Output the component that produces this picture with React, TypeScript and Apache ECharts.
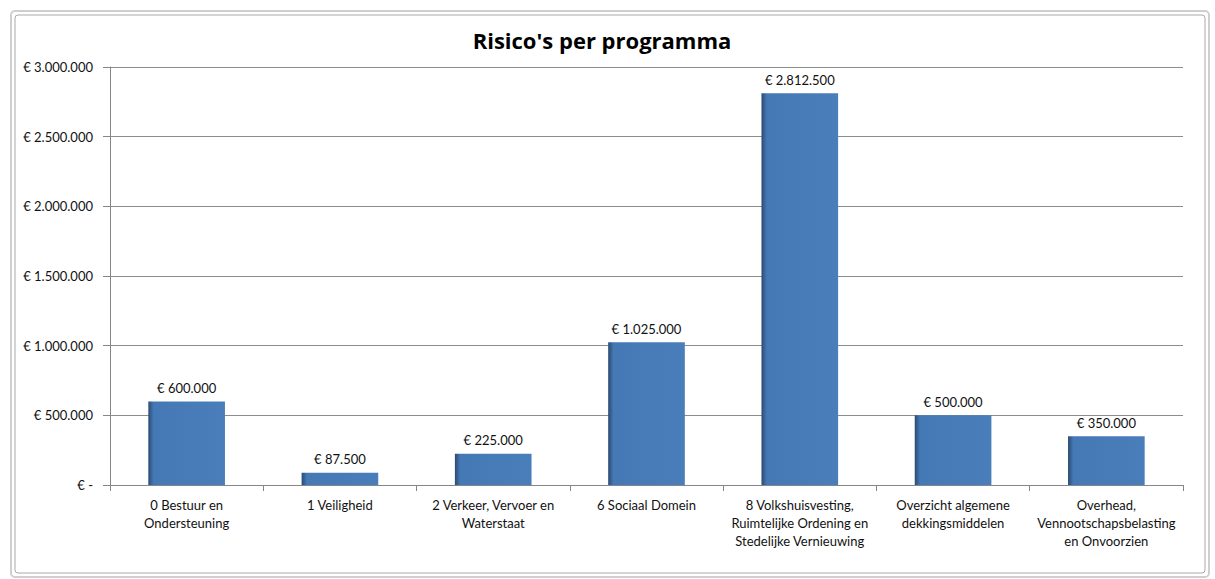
import React, { useEffect, useRef } from "react";
import * as echarts from "echarts";

const categories = [
  "0 Bestuur en\nOndersteuning",
  "1 Veiligheid",
  "2 Verkeer, Vervoer en\nWaterstaat",
  "6 Sociaal Domein",
  "8 Volkshuisvesting,\nRuimtelijke Ordening en\nStedelijke Vernieuwing",
  "Overzicht algemene\ndekkingsmiddelen",
  "Overhead,\nVennootschapsbelasting\nen Onvoorzien",
];
const values = [600000, 87500, 225000, 1025000, 2812500, 500000, 350000];
const yTicks = [0, 500000, 1000000, 1500000, 2000000, 2500000, 3000000];
const title = "Risico's per programma";

const fmt = (v: number) =>
  v === 0 ? "€ -" : "€ " + String(Math.round(v)).replace(/\B(?=(\d{3})+(?!\d))/g, ".");

export default function App() {
  const ref = useRef<HTMLDivElement>(null);
  useEffect(() => {
    const chart = echarts.init(ref.current!, null, { renderer: "svg" });
    const font = "Lato, 'Open Sans', sans-serif";
    chart.setOption({
      animation: false,
      backgroundColor: "#ffffff",
      title: {
        text: title,
        left: 597,
        textAlign: "center",
        top: 24,
        textStyle: { fontFamily: "'Open Sans', sans-serif", fontSize: 22, fontWeight: "bold", color: "#000" },
      },
      graphic: [
        {
          type: "rect",
          shape: { x: 11, y: 11, width: 1198, height: 566, r: 4 },
          style: { fill: "none", stroke: "#cfcfcf", lineWidth: 2 },
          silent: true,
        },
        {
          type: "rect",
          shape: { x: 15, y: 15, width: 1190, height: 558, r: 3 },
          style: { fill: "none", stroke: "#a9a9a9", lineWidth: 1 },
          silent: true,
        },
      ],
      grid: { left: 110, right: 32, top: 67, bottom: 94, containLabel: false },
      xAxis: {
        type: "category",
        data: categories,
        axisLine: { lineStyle: { color: "#868686" } },
        axisTick: { show: true, length: 6, lineStyle: { color: "#868686" } },
        axisLabel: {
          interval: 0,
          margin: 11,
          lineHeight: 18,
          fontFamily: font,
          fontSize: 13,
          color: "#111",
        },
      },
      yAxis: {
        type: "value",
        min: 0,
        max: yTicks[yTicks.length - 1],
        interval: yTicks[1] - yTicks[0],
        axisLine: { show: true, lineStyle: { color: "#868686" } },
        axisTick: { show: true, length: 7, lineStyle: { color: "#868686" } },
        splitLine: { lineStyle: { color: "#8c8c8c" } },
        axisLabel: {
          formatter: (v: number) => fmt(v),
          margin: 17,
          fontFamily: font,
          fontSize: 13,
          color: "#111",
        },
      },
      series: [
        {
          type: "bar",
          data: values,
          barWidth: "50%",
          itemStyle: {
            color: new echarts.graphic.LinearGradient(0, 0, 1, 0, [
              { offset: 0, color: "#2a4a72" },
              { offset: 0.07, color: "#4579b5" },
              { offset: 1, color: "#4a7ebb" },
            ]),
          },
          label: {
            show: true,
            position: "top",
            distance: 7,
            formatter: (p: any) => fmt(p.value),
            fontFamily: font,
            fontSize: 13,
            color: "#111",
          },
        },
      ],
    });
    return () => chart.dispose();
  }, []);
  return (
    <div
      ref={ref}
      style={{ position: "fixed", left: 0, top: 0, width: 1215, height: 579 }}
    />
  );
}
